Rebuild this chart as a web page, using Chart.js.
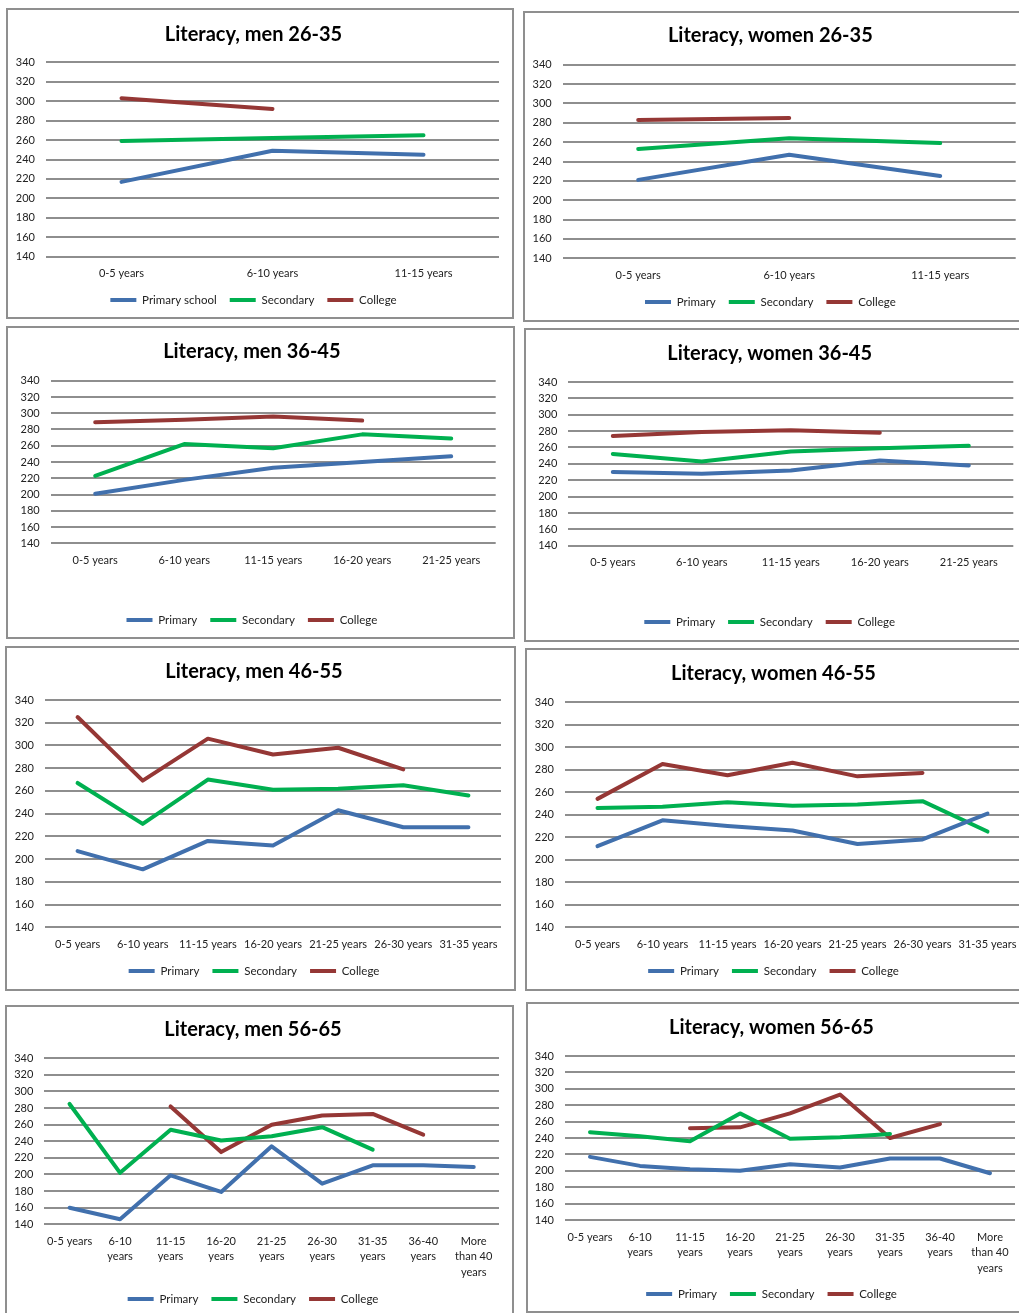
<!DOCTYPE html>
<html><head><meta charset="utf-8">
<script src="https://cdn.jsdelivr.net/npm/chart.js@4.4.0/dist/chart.umd.min.js"></script>
<style>
html,body{margin:0;padding:0;background:#fff;width:1019px;height:1313px;overflow:hidden;position:relative}
.panel{position:absolute;border:2px solid #8f8f8f;box-sizing:border-box;background:#fff}
.panel canvas{position:absolute;left:0;top:0}
</style></head><body>
<script>
// ---------- categories / tick labels ----------
const categories3 = ["0-5 years", "6-10 years", "11-15 years"];
const categories5 = ["0-5 years", "6-10 years", "11-15 years", "16-20 years", "21-25 years"];
const categories7 = ["0-5 years", "6-10 years", "11-15 years", "16-20 years", "21-25 years", "26-30 years", "31-35 years"];
const categories9 = [["0-5 years"], ["6-10", "years"], ["11-15", "years"], ["16-20", "years"], ["21-25", "years"], ["26-30", "years"], ["31-35", "years"], ["36-40", "years"], ["More", "than 40", "years"]];
const yTickMin = 140;
const yTickMax = 340;
const yTickStep = 20;

// ---------- series ----------
const men2635Primary   = [217, 249, 245];
const men2635Secondary = [259, 262, 265];
const men2635College   = [303, 292, null];

const women2635Primary   = [221, 247, 225];
const women2635Secondary = [253, 264, 259];
const women2635College   = [283, 285, null];

const men3645Primary   = [201, 218, 233, 240, 247];
const men3645Secondary = [223, 262, 257, 274, 269];
const men3645College   = [289, 292, 296, 291, null];

const women3645Primary   = [230, 228, 232, 244, 238];
const women3645Secondary = [252, 243, 255, 259, 262];
const women3645College   = [274, 279, 281, 278, null];

const men4655Primary   = [207, 191, 216, 212, 243, 228, 228];
const men4655Secondary = [267, 231, 270, 261, 262, 265, 256];
const men4655College   = [325, 269, 306, 292, 298, 279, null];

const women4655Primary   = [212, 235, 230, 226, 214, 218, 241];
const women4655Secondary = [246, 247, 251, 248, 249, 252, 225];
const women4655College   = [254, 285, 275, 286, 274, 277, null];

const men5665Primary   = [160, 146, 199, 179, 234, 189, 211, 211, 209];
const men5665Secondary = [285, 202, 254, 241, 246, 257, 230, null, null];
const men5665College   = [null, null, 282, 227, 260, 271, 273, 248, null];

const women5665Primary   = [217, 206, 202, 200, 208, 204, 215, 215, 197];
const women5665Secondary = [247, 242, 236, 270, 239, 241, 245, null, null];
const women5665College   = [null, null, 252, 253, 270, 293, 240, 257, null];

const seriesNames = ["Primary", "Secondary", "College"];
const seriesNamesFirst = ["Primary school", "Secondary", "College"];

// ---------- styling / layout ----------
const colors = ["#4170ad", "#00b050", "#953735"];
Chart.defaults.font.family = "Lato, 'Open Sans', sans-serif";
const TITLE_SIZE = 20, LEG_SIZE = 11.5, X_SIZE = 11, X_LH = 1.45, Y_SIZE = 11;

const panels = [
  {title:"Literacy, men 26-35", cats:categories3, data:[men2635Primary, men2635Secondary, men2635College], names:seriesNamesFirst,
   box:[6,8,508,311], plot:[46,62.3,499,256.7], titleY:34.3, labY:273.3, legY:300},
  {title:"Literacy, women 26-35", cats:categories3, data:[women2635Primary, women2635Secondary, women2635College], names:seriesNames,
   box:[523,11,508,311], plot:[562.7,64.7,1015.7,258.3], titleY:36, labY:275, legY:302},
  {title:"Literacy, men 36-45", cats:categories5, data:[men3645Primary, men3645Secondary, men3645College], names:seriesNames,
   box:[6,326,509,313], plot:[50.7,380.7,495.7,543.3], titleY:351.7, labY:560, legY:620},
  {title:"Literacy, women 36-45", cats:categories5, data:[women3645Primary, women3645Secondary, women3645College], names:seriesNames,
   box:[524,328,508,314], plot:[568.3,382,1013.3,545.7], titleY:353.3, labY:562.3, legY:622},
  {title:"Literacy, men 46-55", cats:categories7, data:[men4655Primary, men4655Secondary, men4655College], names:seriesNames,
   box:[5,646,511,345], plot:[45,700,501,927.3], titleY:671.7, labY:944, legY:971},
  {title:"Literacy, women 46-55", cats:categories7, data:[women4655Primary, women4655Secondary, women4655College], names:seriesNames,
   box:[525,648,510,343], plot:[565,702,1020,927.3], titleY:673.3, labY:944, legY:971},
  {title:"Literacy, men 56-65", cats:categories9, data:[men5665Primary, men5665Secondary, men5665College], names:seriesNames,
   box:[5,1005,509,320], plot:[44.3,1058.3,499,1224.3], titleY:1030, labY:1241, legY:1299},
  {title:"Literacy, women 56-65", cats:categories9, data:[women5665Primary, women5665Secondary, women5665College], names:seriesNames,
   box:[526,1002,509,311], plot:[565,1056,1015,1220], titleY:1027.3, labY:1237, legY:1294}
];

function build(p){
  const div = document.createElement('div');
  div.className = 'panel';
  Object.assign(div.style, {left:p.box[0]+'px', top:p.box[1]+'px', width:p.box[2]+'px', height:p.box[3]+'px'});
  document.body.appendChild(div);
  const cw = p.box[2]-4, ch = p.box[3]-4, ox = p.box[0]+2, oy = p.box[1]+2;
  const cv = document.createElement('canvas');
  cv.width = cw; cv.height = ch; cv.style.width = cw+'px'; cv.style.height = ch+'px';
  div.appendChild(cv);

  const titleLH = TITLE_SIZE*1.2;
  const tPadTop = p.titleY - oy - titleLH/2;
  const tPadBot = (p.plot[1]-oy) - tPadTop - titleLH;
  const legItemH = LEG_SIZE, legPad = 13;
  const pb = ch - 10 - legItemH/2 - (p.legY - oy);
  const legH = legItemH + legPad + 10;
  const xH = (ch - pb - legH) - (p.plot[3]-oy);
  const xPad = p.labY - p.plot[3] - X_LH*X_SIZE/2;
  const yW = p.plot[0]-ox;
  const padRight = cw - (p.plot[2]-ox);

  new Chart(cv, {
    type:'line',
    data:{
      labels:p.cats,
      datasets:p.data.map((d,i)=>({
        label:p.names[i], data:d, borderColor:colors[i], backgroundColor:colors[i],
        borderWidth:4, pointRadius:0, pointHoverRadius:0, tension:0,
        borderCapStyle:'round', borderJoinStyle:'round', spanGaps:false
      }))
    },
    options:{
      responsive:false, animation:false, events:[],
      layout:{padding:{top:0, left:0, right:padRight, bottom:pb}},
      plugins:{
        title:{display:true, text:p.title, color:'#000', font:{size:TITLE_SIZE, weight:'bold'}, padding:{top:tPadTop, bottom:tPadBot}},
        legend:{position:'bottom', labels:{
          boxWidth:26, boxHeight:4, padding:legPad, color:'#222', font:{size:LEG_SIZE},
          generateLabels(chart){
            return Chart.defaults.plugins.legend.labels.generateLabels(chart).map(l=>Object.assign(l,{lineWidth:0, fillStyle:l.strokeStyle}));
          }}},
        tooltip:{enabled:false}
      },
      scales:{
        x:{offset:true, grid:{display:false, drawTicks:false}, border:{display:false},
           ticks:{color:'#222', font:{size:X_SIZE, lineHeight:X_LH}, padding:xPad, maxRotation:0, minRotation:0, autoSkip:false},
           afterFit(s){ s.height = xH; }},
        y:{min:yTickMin, max:yTickMax,
           ticks:{stepSize:yTickStep, color:'#222', font:{size:Y_SIZE}, padding:11},
           grid:{color:'#8e8e8e', lineWidth:2, drawTicks:false}, border:{display:false},
           afterFit(s){ s.width = yW; }}
      }
    }
  });
}
panels.forEach(build);
</script>
</body></html>
